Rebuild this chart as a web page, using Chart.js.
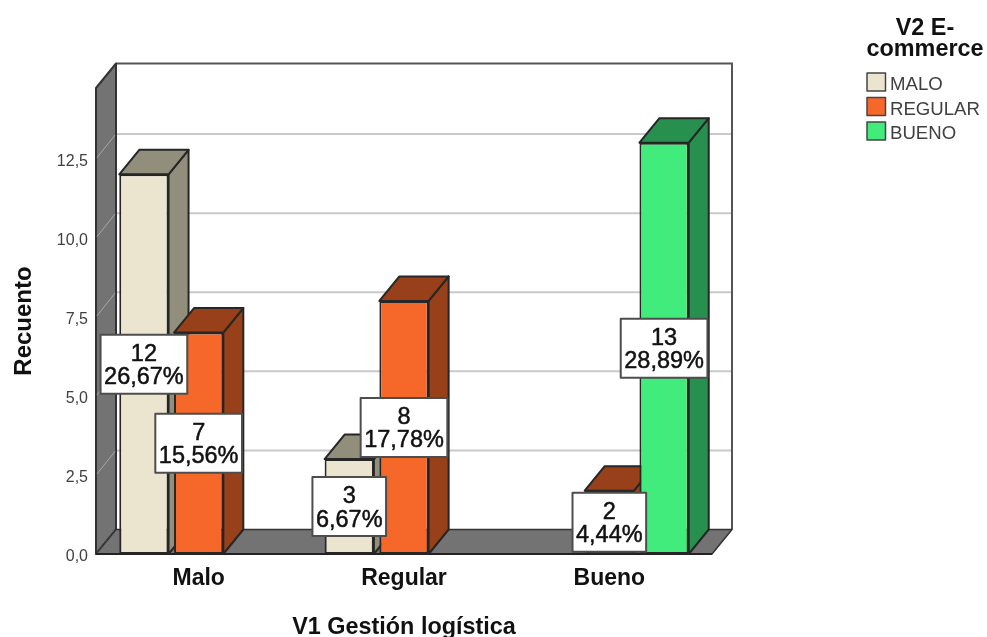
<!DOCTYPE html>
<html lang="es">
<head>
<meta charset="utf-8">
<title>Recuento por V1 Gestión logística</title>
<script src="https://cdn.jsdelivr.net/npm/chart.js@4"></script>
<style>
  html, body { margin: 0; background: #fff; }
  canvas { display: block; }
</style>
</head>
<body>
<canvas id="bar-chart" width="987" height="637"></canvas>
<script>
const categories = ["Malo", "Regular", "Bueno"];
const seriesNames = ["MALO", "REGULAR", "BUENO"];
const maloCounts = [12, 3, null];
const regularCounts = [7, 8, 2];
const buenoCounts = [null, null, 13];
const maloPercents = ["26,67%", "6,67%", null];
const regularPercents = ["15,56%", "17,78%", "4,44%"];
const buenoPercents = [null, null, "28,89%"];
const tickLabels = ["0,0", "2,5", "5,0", "7,5", "10,0", "12,5"];
const legendTitle = ["V2 E-", "commerce"];

const FONT = '"Liberation Sans", Arial, sans-serif';
const DEPTH_X = 20;
const DEPTH_Y = -24.5;
const OUTLINE = "#262626";

// face colours per series: front, then the darker side/top
const frontColors = ["#ebe5d0", "#f5682a", "#41ec7c"];
const sideColors = ["#918e7c", "#97401a", "#27904e"];
const percentLabels = [maloPercents, regularPercents, buenoPercents];

Chart.defaults.font.family = FONT;

function polygon(ctx, points, fill, stroke, lineWidth) {
  ctx.beginPath();
  points.forEach(([x, y], i) => (i ? ctx.lineTo(x, y) : ctx.moveTo(x, y)));
  ctx.closePath();
  ctx.fillStyle = fill;
  ctx.fill();
  ctx.lineJoin = "round";
  ctx.strokeStyle = stroke;
  ctx.lineWidth = lineWidth;
  ctx.stroke();
}

// Side and top faces of every bar in one dataset
function drawBarDepth(chart, index) {
  const { ctx } = chart;
  const color = sideColors[index];
  chart.getDatasetMeta(index).data.forEach((bar, i) => {
    if (chart.data.datasets[index].data[i] === null) return;
    const x1 = bar.x - bar.width / 2;
    const x2 = bar.x + bar.width / 2;
    polygon(ctx, [[x2, bar.y], [x2 + DEPTH_X, bar.y + DEPTH_Y], [x2 + DEPTH_X, bar.base + DEPTH_Y], [x2, bar.base]], color, OUTLINE, 2);
    polygon(ctx, [[x1, bar.y], [x2, bar.y], [x2 + DEPTH_X, bar.y + DEPTH_Y], [x1 + DEPTH_X, bar.y + DEPTH_Y]], color, OUTLINE, 2);
  });
}

function drawValueBoxes(chart) {
  const { ctx } = chart;
  ctx.textAlign = "center";
  ctx.textBaseline = "middle";
  chart.data.datasets.forEach((dataset, d) => {
    chart.getDatasetMeta(d).data.forEach((bar, i) => {
      const value = dataset.data[i];
      if (value === null) return;
      const percent = percentLabels[d][i];
      const cy = (bar.y + bar.base) / 2;
      ctx.font = `23.5px ${FONT}`;
      const w = ctx.measureText(percent).width + 7;
      ctx.fillStyle = "#fff";
      ctx.fillRect(bar.x - w / 2, cy - 29.5, w, 59);
      ctx.strokeStyle = "#4d4d4d";
      ctx.lineWidth = 2;
      ctx.strokeRect(bar.x - w / 2, cy - 29.5, w, 59);
      // a hairline stroke thickens the regular weight a little
      ctx.fillStyle = "#111";
      ctx.strokeStyle = "#111";
      ctx.lineWidth = 0.5;
      [[String(value), cy - 10], [percent, cy + 13.5]].forEach(([text, ty]) => {
        ctx.fillText(text, bar.x, ty);
        ctx.strokeText(text, bar.x, ty);
      });
    });
  });
}

function drawLegend(ctx) {
  ctx.textAlign = "center";
  ctx.textBaseline = "middle";
  ctx.fillStyle = "#111";
  ctx.font = `bold 23.4px ${FONT}`;
  legendTitle.forEach((line, i) => ctx.fillText(line, 925, 29 + i * 21));

  ctx.textAlign = "left";
  ctx.font = `18.6px ${FONT}`;
  seriesNames.forEach((name, i) => {
    const ly = 73 + i * 24.5;
    ctx.fillStyle = frontColors[i];
    ctx.fillRect(867, ly, 18.5, 18);
    ctx.strokeStyle = "#444";
    ctx.lineWidth = 1.5;
    ctx.strokeRect(867, ly, 18.5, 18);
    ctx.fillStyle = "#404040";
    ctx.fillText(name, 890, ly + 12);
  });
}

const boxPlugin = {
  id: "box3d",

  // Back wall, left wall, floor and gridlines behind the bars
  beforeDatasetsDraw(chart) {
    const { ctx, chartArea: { left, right, top, bottom }, scales: { y } } = chart;
    const backTop = top + DEPTH_Y;
    const backBottom = bottom + DEPTH_Y;
    const backLeft = left + DEPTH_X;
    const backRight = right + DEPTH_X;
    ctx.save();

    ctx.fillStyle = "#fff";
    ctx.fillRect(backLeft, backTop, right - left, bottom - top);

    y.ticks.forEach((tick) => {
      if (tick.value === 0) return;
      const py = y.getPixelForValue(tick.value);
      ctx.strokeStyle = "#c9c9c9";
      ctx.lineWidth = 2;
      ctx.beginPath();
      ctx.moveTo(backLeft, py + DEPTH_Y);
      ctx.lineTo(backRight, py + DEPTH_Y);
      ctx.stroke();
    });

    ctx.strokeStyle = "#555";
    ctx.lineWidth = 2;
    ctx.beginPath();
    ctx.moveTo(backLeft, backTop);
    ctx.lineTo(backRight, backTop);
    ctx.lineTo(backRight, backBottom);
    ctx.stroke();

    polygon(ctx, [[left, top], [backLeft, backTop], [backLeft, backBottom], [left, bottom]], "#737373", "#333", 2);

    y.ticks.forEach((tick) => {
      const py = y.getPixelForValue(tick.value);
      ctx.strokeStyle = "#a8a8a8";
      ctx.lineWidth = 1;
      ctx.beginPath();
      ctx.moveTo(left + 1, py - 1);
      ctx.lineTo(backLeft - 1, py + DEPTH_Y + 1);
      ctx.stroke();
    });

    polygon(ctx, [[left, bottom], [right, bottom], [backRight, backBottom], [backLeft, backBottom]], "#737373", "#333", 1.5);

    ctx.strokeStyle = "#222";
    ctx.lineWidth = 2;
    ctx.beginPath();
    ctx.moveTo(left, bottom);
    ctx.lineTo(right, bottom);
    ctx.stroke();
    ctx.restore();
  },

  // The library paints the last dataset first; these bars need the first one underneath
  beforeDatasetDraw() {
    return false;
  },

  afterDatasetsDraw(chart) {
    const { ctx } = chart;
    ctx.save();
    chart.data.datasets.forEach((dataset, d) => {
      drawBarDepth(chart, d);
      chart.getDatasetMeta(d).controller.draw();
    });
    drawValueBoxes(chart);
    drawLegend(ctx);
    ctx.restore();
  },
};

const seriesData = [maloCounts, regularCounts, buenoCounts];

new Chart(document.getElementById("bar-chart"), {
  type: "bar",
  data: {
    labels: categories,
    datasets: seriesNames.map((name, i) => ({
      label: name,
      data: seriesData[i],
      backgroundColor: frontColors[i],
      borderColor: OUTLINE,
      borderWidth: 2,
      borderSkipped: false,
    })),
  },
  plugins: [boxPlugin],
  options: {
    responsive: false,
    animation: false,
    layout: { padding: { left: 0, right: 275, top: 88, bottom: -5 } },
    plugins: { legend: { display: false }, tooltip: { enabled: false } },
    scales: {
      x: {
        grid: { display: false, drawTicks: false },
        border: { display: false },
        ticks: { color: "#111", font: { size: 23, weight: "bold" }, padding: 11, maxRotation: 0 },
        title: {
          display: true,
          text: "V1 Gestión logística",
          color: "#111",
          font: { size: 23.4, weight: "bold" },
          padding: 0,
        },
        afterFit: (scale) => { scale.height = 88; },
      },
      y: {
        min: 0,
        max: 14.73,
        grid: { display: false, drawTicks: false },
        border: { display: false },
        ticks: {
          stepSize: 2.5,
          includeBounds: false,
          color: "#404040",
          // blank first line at half line height drops each label 3px below its tick
          font: { size: 16, lineHeight: "6px" },
          padding: 8,
          callback: (value, index) => ["", tickLabels[index]],
        },
        title: {
          display: true,
          text: "Recuento",
          color: "#111",
          font: { size: 24, weight: "bold" },
          padding: { top: 10, bottom: 0 },
        },
        afterFit: (scale) => { scale.width = 96; },
      },
    },
  },
});
</script>
</body>
</html>
